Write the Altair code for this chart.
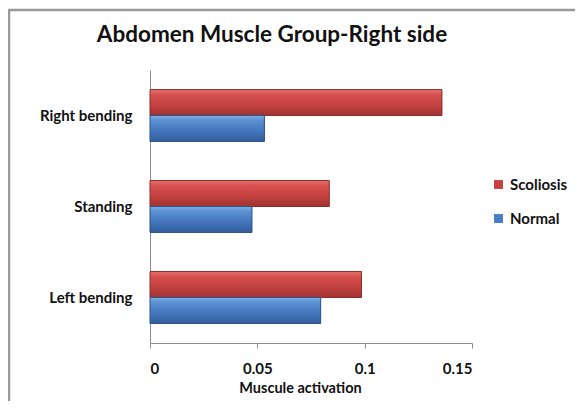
import altair as alt
import pandas as pd

categories = ["Right bending", "Standing", "Left bending"]
series = ["Scoliosis", "Normal"]
scoliosis = [0.136, 0.0835, 0.0985]
normal = [0.0533, 0.0475, 0.0795]
x_ticks = [0, 0.05, 0.1, 0.15]

rows = []
for c, s, n in zip(categories, scoliosis, normal):
    rows.append({"Position": c, "Group": "Scoliosis", "Value": s})
    rows.append({"Position": c, "Group": "Normal", "Value": n})
df = pd.DataFrame(rows)

FONT = "Lato"
PW, PH = 322, 273

red_grad = {"gradient": "linear", "x1": 0, "y1": 0, "x2": 0, "y2": 1,
            "stops": [{"offset": 0, "color": "#E67573"},
                      {"offset": 0.18, "color": "#D65350"},
                      {"offset": 0.55, "color": "#C64341"},
                      {"offset": 1, "color": "#A13331"}]}
blue_grad = {"gradient": "linear", "x1": 0, "y1": 0, "x2": 0, "y2": 1,
             "stops": [{"offset": 0, "color": "#7DAEE4"},
                       {"offset": 0.18, "color": "#5C92D4"},
                       {"offset": 0.55, "color": "#4678C0"},
                       {"offset": 1, "color": "#345E9C"}]}

x_enc = alt.X("Value:Q",
              scale=alt.Scale(domain=[0, 0.15], nice=False, zero=True),
              axis=alt.Axis(values=x_ticks, format="~g", title="Muscule activation",
                            grid=False, domainColor="#8C8C8C", tickColor="#8C8C8C",
                            tickSize=5, labelFontSize=15, labelFont=FONT,
                            labelFontWeight="bold", labelColor="#111",
                            labelPadding=13, titleFont=FONT, titleFontSize=14.5,
                            titleFontWeight="bold", titleColor="#111",
                            titlePadding=5, titleX=150, titleAnchor="middle"))
y_enc = alt.Y("Position:N", sort=categories,
              scale=alt.Scale(paddingInner=0.43, paddingOuter=0.215),
              axis=alt.Axis(title=None, ticks=False, domainColor="#8C8C8C",
                            labelFontSize=15, labelFont=FONT, labelFontWeight="bold",
                            labelColor="#111", labelPadding=18))
yoff = alt.YOffset("Group:N", sort=series, scale=alt.Scale(paddingInner=0, paddingOuter=0))

base = alt.Chart(df).mark_bar().encode(
    x=x_enc, y=y_enc, yOffset=yoff,
    color=alt.Color("Group:N", sort=series,
                    scale=alt.Scale(domain=series, range=["#C9403E", "#4A7EC4"]),
                    legend=alt.Legend(title=None, orient="none", legendX=341, legendY=107,
                                      symbolType="square", symbolSize=80,
                                      labelFont=FONT, labelFontSize=15,
                                      labelFontWeight="bold", labelColor="#111",
                                      rowPadding=18, symbolStrokeWidth=0)),
)

red_layer = alt.Chart(df).transform_filter(alt.datum.Group == "Scoliosis").mark_bar(
    color=red_grad, stroke="#8E2C2A", strokeWidth=1
).encode(x="Value:Q", y=alt.Y("Position:N", sort=categories), yOffset=yoff)

blue_layer = alt.Chart(df).transform_filter(alt.datum.Group == "Normal").mark_bar(
    color=blue_grad, stroke="#2B5388", strokeWidth=1
).encode(x="Value:Q", y=alt.Y("Position:N", sort=categories), yOffset=yoff)

frame = alt.Chart(pd.DataFrame({"a": [0]})).mark_rect(
    fill="transparent", stroke="#9A9A9A", strokeWidth=2.5
).encode(x=alt.value(-141), x2=alt.value(PW + 140), y=alt.value(-60), y2=alt.value(PH + 90))

chart = alt.layer(frame, base, red_layer, blue_layer).properties(
    width=PW, height=PH,
    title=alt.TitleParams("Abdomen Muscle Group-Right side", font=FONT, fontSize=22.5,
                          fontWeight="bold", color="#111", anchor="middle",
                          dx=-39, offset=-61, baseline="bottom"),
    autosize=alt.AutoSizeParams(type="none"),
    padding={"left": 142, "top": 62, "right": 103, "bottom": 58},
    background="white",
).configure_view(strokeWidth=0, stroke="transparent")

chart.save("out.html", embed_options={"renderer": "svg", "actions": False})
